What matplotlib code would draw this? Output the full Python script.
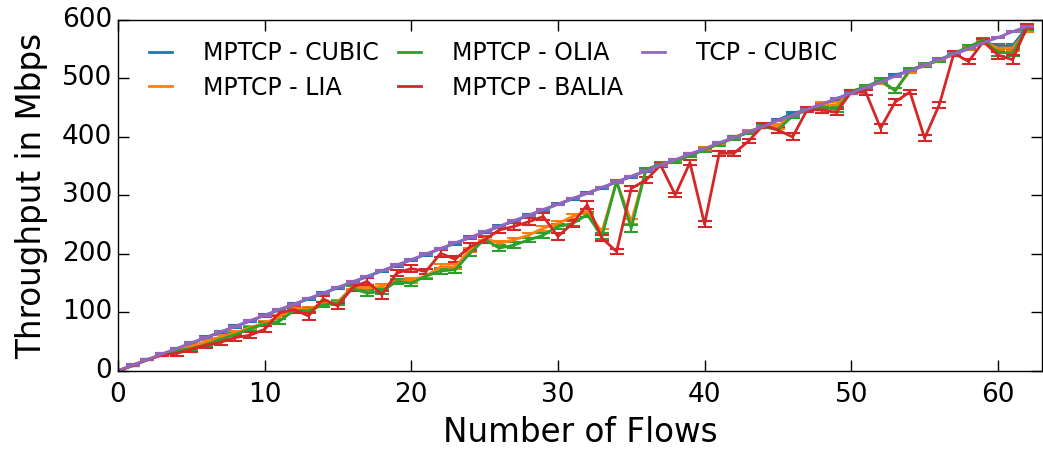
import numpy as np
import matplotlib.pyplot as plt

# --------- Data ---------

flows = list(range(0, 63))

tcp_cubic = [0, 10, 19, 29, 38, 48, 57, 67, 76, 86, 95, 105, 114, 124, 133, 143,
             152, 162, 171, 181, 190, 200, 209, 219, 228, 238, 247, 257, 266, 276,
             285, 295, 304, 314, 323, 333, 342, 352, 361, 371, 380, 390, 399, 409,
             418, 428, 437, 447, 456, 466, 475, 485, 494, 504, 513, 523, 532, 542,
             551, 561, 570, 580, 589]

mptcp_cubic = [0, 10, 19, 28, 38, 47, 57, 66, 76, 85, 95, 104, 114, 123, 133, 142,
               152, 161, 171, 180, 190, 199, 209, 218, 228, 237, 247, 256, 266, 275,
               285, 294, 304, 313, 323, 332, 342, 351, 360, 370, 379, 389, 399, 408,
               418, 429, 440, 447, 456, 465, 475, 484, 494, 506, 513, 522, 532, 541,
               551, 562, 556, 556, 588]

mptcp_lia = [0, 9, 19, 28, 36, 42, 50, 58, 65, 74, 82, 92, 108, 105, 115, 118,
             144, 141, 145, 153, 155, 162, 178, 178, 207, 227, 218, 224, 232, 244,
             252, 264, 272, 238, 324, 255, 344, 352, 360, 370, 379, 389, 399, 409,
             418, 418, 437, 447, 455, 455, 477, 485, 494, 480, 513, 522, 531, 541,
             552, 563, 552, 552, 583]

mptcp_olia = [0, 9, 19, 28, 35, 38, 45, 54, 62, 72, 80, 85, 103, 103, 113, 116,
              141, 133, 136, 153, 150, 162, 171, 173, 201, 225, 210, 215, 224, 232,
              247, 252, 267, 230, 324, 244, 344, 354, 358, 368, 378, 388, 398, 408,
              418, 412, 436, 446, 452, 447, 478, 486, 497, 479, 515, 523, 532, 543,
              554, 566, 544, 544, 586]

mptcp_balia = [0, 9, 19, 27, 30, 37, 44, 49, 57, 61, 71, 99, 105, 94, 123, 111,
               143, 153, 130, 167, 175, 170, 201, 191, 212, 224, 241, 247, 255, 264,
               230, 252, 284, 227, 204, 312, 326, 352, 301, 356, 251, 372, 372, 393,
               420, 412, 400, 447, 446, 442, 477, 476, 415, 460, 477, 398, 455, 543,
               529, 563, 540, 532, 589]

err_tcp = [0, 1, 1, 1, 1, 1, 1, 1, 1, 1, 1, 1, 1, 1, 1, 1, 1, 1, 1, 1, 1, 1, 1, 1,
           1, 1, 1, 1, 1, 1, 1, 1, 1, 1, 1, 1, 1, 1, 1, 1, 1, 1, 1, 1, 1, 1, 1, 1,
           1, 1, 1, 1, 1, 1, 1, 1, 1, 1, 1, 1, 1, 1, 1]

err_cubic = [0, 1, 1, 1, 1, 2, 2, 2, 2, 2, 2, 2, 2, 2, 2, 2, 2, 2, 2, 2, 2, 2, 2, 2,
             2, 2, 2, 2, 2, 2, 2, 2, 2, 2, 2, 2, 2, 2, 2, 2, 2, 2, 2, 2, 2, 2, 2, 2,
             2, 2, 2, 2, 2, 2, 2, 2, 2, 2, 2, 2, 3, 3, 2]

err_lia = [0, 1, 1, 2, 3, 3, 3, 3, 3, 3, 3, 3, 4, 4, 3, 3, 4, 4, 4, 3, 4, 3, 4, 4,
           4, 4, 4, 4, 4, 4, 4, 4, 4, 4, 3, 4, 3, 3, 3, 3, 3, 3, 3, 3, 3, 4, 3, 3,
           4, 4, 3, 3, 3, 4, 3, 3, 3, 3, 3, 3, 5, 5, 3]

err_olia = [0, 1, 1, 2, 3, 3, 3, 3, 3, 3, 4, 4, 4, 4, 4, 3, 4, 5, 4, 4, 5, 4, 5, 5,
            4, 5, 5, 5, 4, 4, 4, 4, 4, 5, 3, 6, 3, 3, 3, 3, 3, 3, 3, 3, 3, 5, 3, 3,
            4, 4, 3, 3, 3, 4, 3, 3, 3, 3, 3, 3, 6, 6, 3]

err_balia = [0, 1, 1, 2, 4, 4, 4, 4, 5, 5, 5, 5, 6, 7, 5, 5, 6, 6, 7, 5, 6, 5, 6, 5,
             6, 5, 6, 6, 6, 6, 6, 6, 7, 5, 4, 5, 5, 4, 4, 4, 5, 4, 4, 4, 4, 5, 6, 4,
             5, 5, 4, 4, 8, 5, 4, 5, 5, 4, 5, 4, 6, 8, 4]

# --------- Plot ---------

plt.style.use('classic')
plt.rcParams['font.family'] = ['DejaVu Sans']

fig = plt.figure(figsize=(10.43, 4.54), dpi=100)
ax = fig.add_axes([0.113, 0.183, 0.886, 0.773])

series = [
    (mptcp_cubic, err_cubic, '#1f77b4', 'MPTCP - CUBIC'),
    (mptcp_lia, err_lia, '#ff7f0e', 'MPTCP - LIA'),
    (mptcp_olia, err_olia, '#2ca02c', 'MPTCP - OLIA'),
    (mptcp_balia, err_balia, '#d62728', 'MPTCP - BALIA'),
    (tcp_cubic, err_tcp, '#9467bd', 'TCP - CUBIC'),
]

for vals, err, col, lab in series:
    ax.errorbar(flows, vals, yerr=err, color=col, label=lab, lw=2,
                elinewidth=1.5, capsize=5, capthick=1.5)

ax.set_xlim(0, 63)
ax.set_ylim(0, 600)
ax.set_xticks([0, 10, 20, 30, 40, 50, 60])
ax.set_yticks([0, 100, 200, 300, 400, 500, 600])
ax.tick_params(labelsize=19, direction='in', length=8, width=1)
ax.tick_params(axis='x', pad=8)
ax.set_xlabel('Number of Flows', fontsize=23.5, labelpad=6)
ax.set_ylabel('Throughput in Mbps', fontsize=23.5, labelpad=10)

handles, labels = ax.get_legend_handles_labels()
handles = [h[0] for h in handles]
ax.legend(handles, labels, loc='upper left', bbox_to_anchor=(0.0155, 0.967),
          borderaxespad=0, ncol=3, frameon=False, fontsize=17,
          handlelength=1.6, handletextpad=1.0, columnspacing=0.5,
          labelspacing=0.45)

plt.savefig('out.png', dpi=100)
